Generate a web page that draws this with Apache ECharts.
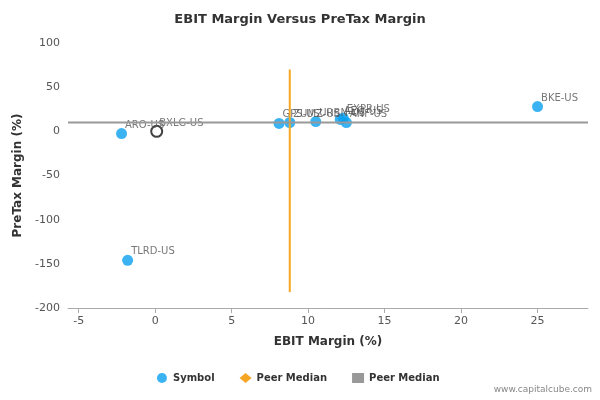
<!DOCTYPE html><html><head><meta charset="utf-8"><script src="https://cdn.jsdelivr.net/npm/echarts@6/dist/echarts.min.js"></script></head><body style="margin:0"><div id="c" style="width:600px;height:400px"></div><script>
const names=['ARO-US','TLRD-US','BKE-US','GPS-US','ZUMZ-US','URBN-US','AEO-US','EXPR-US','ANF-US'];
const ebit=[-2.2,-1.8,25,8.1,8.8,10.5,12.1,12.3,12.5];
const pretax=[-2.5,-146,28,9,10,11,13.5,15,10];
const hollowName=['BXLG-US'];const hollowX=[0.1];const hollowY=[0];
const vMedX=[8.8,8.8];const vMedY=[70,-182];
const hMedX=[-5.7,28.3];const hMedY=[10,10];
const ch=echarts.init(document.getElementById('c'));
const F='DejaVu Sans';
ch.setOption({textStyle:{fontFamily:F},
title:{text:'EBIT Margin Versus PreTax Margin',left:'center',top:8,textStyle:{fontSize:13,fontWeight:'bold',color:'#333',fontFamily:F}},
grid:{left:68,right:12,top:43,bottom:92},
xAxis:{type:'value',min:-5.7,max:28.3,interval:5,name:'EBIT Margin (%)',nameLocation:'middle',nameGap:28,nameTextStyle:{fontWeight:'bold',fontSize:12,color:'#333'},
 axisLabel:{color:'#555',fontSize:11,customValues:[-5,0,5,10,15,20,25]},axisTick:{customValues:[-5,0,5,10,15,20,25]},splitLine:{show:false},axisLine:{onZero:false,lineStyle:{color:'#aaa'}}},
yAxis:{type:'value',min:-200,max:100,interval:50,name:'PreTax Margin (%)',nameLocation:'middle',nameGap:40,nameTextStyle:{fontWeight:'bold',fontSize:12,color:'#333'},
 axisLabel:{color:'#555',fontSize:11},axisTick:{show:false},splitLine:{show:false},axisLine:{show:false,onZero:false}},
legend:{bottom:12,left:'center',itemGap:25,itemWidth:12,itemHeight:10,textStyle:{fontSize:10,fontWeight:'bold',color:'#333'},
 data:[{name:'Symbol',icon:'circle'},{name:'Peer Median',icon:'diamond'},{name:'Peer Median ',icon:'rect'}]},
graphic:[{type:'text',right:8,bottom:6,style:{text:'www.capitalcube.com',fontSize:9,fill:'#888',fontFamily:F}}],
series:[
{name:'Peer Median',type:'line',data:vMedX.map((x,i)=>[x,vMedY[i]]),symbol:'none',lineStyle:{color:'#f5a623',width:2},itemStyle:{color:'#f5a623'}},
{name:'Peer Median ',type:'line',data:hMedX.map((x,i)=>[x,hMedY[i]]),symbol:'none',lineStyle:{color:'#999',width:2},itemStyle:{color:'#999'}},
{name:'Symbol',type:'scatter',symbolSize:11,itemStyle:{color:'#0aa0f0'},data:names.map((n,i)=>({name:n,value:[ebit[i],pretax[i]]})),
 label:{show:true,formatter:'{b}',position:'insideBottomLeft',offset:[4,-4],color:'#555',fontSize:10}},
{name:'Symbol',type:'scatter',symbolSize:11,itemStyle:{color:'#fff',borderColor:'#111',borderWidth:2},data:hollowName.map((n,i)=>({name:n,value:[hollowX[i],hollowY[i]]})),
 label:{show:true,formatter:'{b}',position:'insideBottomLeft',offset:[4,-4],color:'#555',fontSize:10}}
]});
</script></body></html>
